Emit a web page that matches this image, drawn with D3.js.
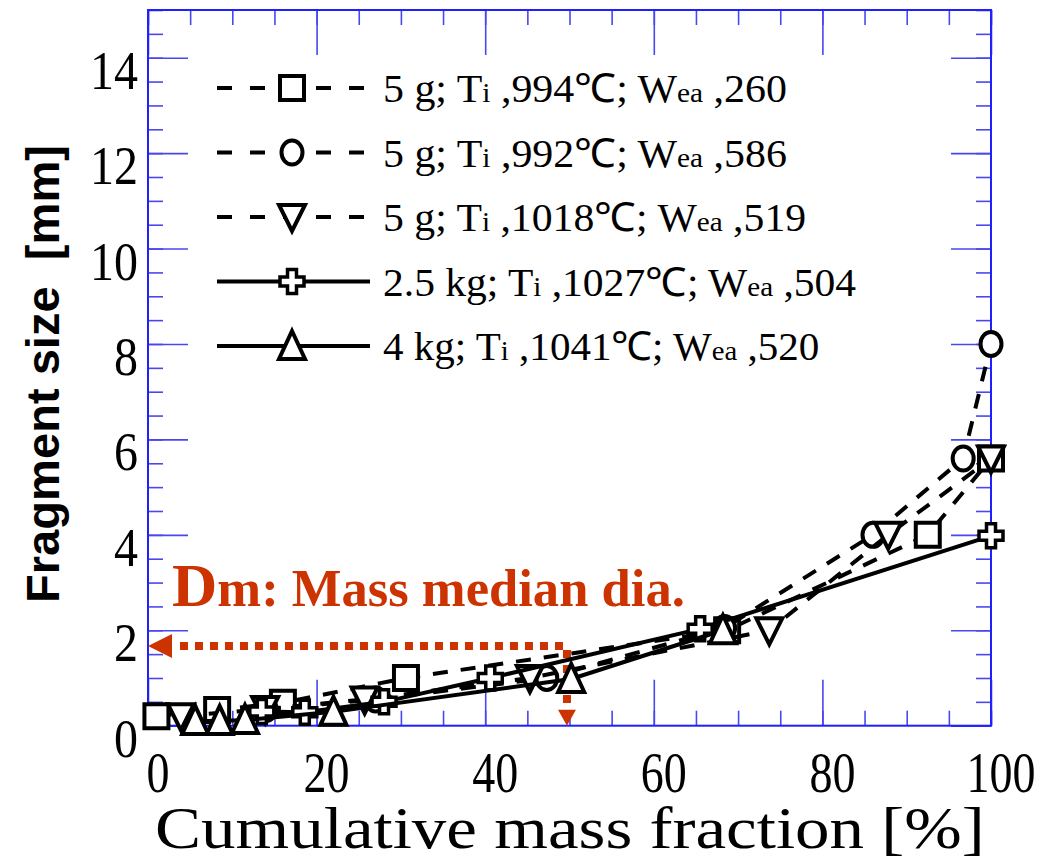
<!DOCTYPE html>
<html lang="en">
<head>
  <meta charset="UTF-8">
  <title>Fragment size vs cumulative mass fraction</title>
  <script src="https://d3js.org/d3.v7.min.js"></script>
  <style>
    html, body { margin: 0; background: #fff; }
    svg { display: block; }
    .tick line { stroke: #4848ee; stroke-width: 1.6px; }
  </style>
</head>
<body>
  <svg id="chart" width="1044" height="860"></svg>
  <script>
    // series data: cumulative mass fraction [%] / fragment size [mm]
    const sqX = [1, 8.2, 16, 30.6, 68.7, 92.5, 100];
    const sqY = [0.2, 0.33, 0.48, 1.0, 2.0, 4.0, 5.6];
    const ciX = [14, 27, 47.3, 68.4, 86, 96.7, 100];
    const ciY = [0.35, 0.55, 1.0, 2.05, 4.0, 5.6, 8.0];
    const dtX = [3.9, 13.9, 25.7, 45.3, 73.7, 87.8, 100];
    const dtY = [0.2, 0.35, 0.55, 1.0, 2.0, 4.0, 5.6];
    const crX = [13.5, 18.6, 28, 40.6, 65.5, 100];
    const crY = [0.3, 0.28, 0.5, 1.0, 2.03, 3.98];
    const utX = [5.6, 8.5, 11.5, 22, 50.2, 68.2];
    const utY = [0.1, 0.1, 0.12, 0.29, 0.98, 2.0];

    const legendMass = ["5 g", "5 g", "5 g", "2.5 kg", "4 kg"];
    const legendTemp = ["994", "992", "1018", "1027", "1041"];
    const legendWea = ["260", "586", "519", "504", "520"];

    const xTickLabels = [0, 20, 40, 60, 80, 100];
    const yTickLabels = [0, 2, 4, 6, 8, 10, 12, 14];

    // mass median diameter marker
    const dmX = 49.7;
    const dmY = 1.67;

    const svg = d3.select("#chart");
    const x = d3.scaleLinear().domain([0, 100]).range([148, 991]);
    const y = d3.scaleLinear().domain([0, 15]).range([725.7, 10]);

    const blue = "#1f1fff";
    const orange = "#cc3300";

    // squeeze a text element horizontally to a given width
    function fit(sel, w, tx, ty, rot) {
      sel.each(function () {
        const bw = this.getBBox().width;
        const k = w / bw;
        d3.select(this).attr("transform",
          `translate(${tx},${ty})` + (rot ? ` rotate(${rot})` : "") + ` scale(${k},1)`);
      });
    }

    // ticks on all four sides, pointing inward
    const ticks = svg.append("g");
    function addAxis(axis, tr, vals, size) {
      const g = ticks.append("g").attr("transform", tr)
        .call(axis.tickValues(vals).tickSize(size).tickFormat(""));
      g.select(".domain").remove();
    }
    const xMinor = x.ticks(20), xMajor = x.ticks(5);
    const yMinor = y.ticks(30), yMajor = d3.range(0, 15, 2);
    addAxis(d3.axisBottom(x), `translate(0,${y(0)})`, xMinor, -15);
    addAxis(d3.axisBottom(x), `translate(0,${y(0)})`, xMajor, -46);
    addAxis(d3.axisTop(x), `translate(0,${y(15)})`, xMinor, -15);
    addAxis(d3.axisTop(x), `translate(0,${y(15)})`, xMajor, -45);
    addAxis(d3.axisLeft(y), `translate(${x(0)},0)`, yMinor, -15);
    addAxis(d3.axisLeft(y), `translate(${x(0)},0)`, yMajor, -40);
    addAxis(d3.axisRight(y), `translate(${x(100)},0)`, yMinor, -15);
    addAxis(d3.axisRight(y), `translate(${x(100)},0)`, yMajor, -40);

    svg.append("rect")
      .attr("x", x(0)).attr("y", y(15))
      .attr("width", x(100) - x(0)).attr("height", y(0) - y(15))
      .attr("fill", "none").attr("stroke", blue).attr("stroke-width", 2);

    // tick labels
    svg.append("g").selectAll("text").data(yTickLabels).join("text")
      .attr("font-family", "Liberation Serif, serif")
      .attr("font-size", 54)
      .attr("text-anchor", "end")
      .text(d => d)
      .each(function (d) { fit(d3.select(this), String(d).length * 24, 138, y(d) + 31); });

    svg.append("g").selectAll("text").data(xTickLabels).join("text")
      .attr("font-family", "Liberation Serif, serif")
      .attr("font-size", 58)
      .attr("text-anchor", "middle")
      .text(d => d)
      .each(function (d) { fit(d3.select(this), String(d).length * 23, x(d) + 10, 792); });

    // axis titles
    svg.append("text")
      .attr("font-family", "Liberation Serif, serif")
      .attr("font-size", 60)
      .text("Cumulative mass fraction [%]")
      .call(fit, 830, 155, 848);

    svg.append("text")
      .attr("font-family", "Liberation Sans, Arial, sans-serif")
      .attr("font-weight", "bold")
      .attr("font-size", 46)
      .attr("text-anchor", "middle")
      .style("white-space", "pre")
      .text("Fragment size  [mm]")
      .call(fit, 458, 59, 374, -90);

    // marker shapes
    const shapes = {
      square: "M-12,-12H12V12H-12Z",
      circle: "M0,-12A10.5,12 0 1,1 0,12A10.5,12 0 1,1 0,-12Z",
      down: "M-13,-12H13L0,14Z",
      cross: "M-4.5,-12H4.5V-4.5H12V4.5H4.5V12H-4.5V4.5H-12V-4.5H-4.5Z",
      up: "M0,-15L13,13H-13Z"
    };

    const series = [
      { xs: sqX, ys: sqY, shape: "square", dash: "15 13" },
      { xs: ciX, ys: ciY, shape: "circle", dash: "15 13" },
      { xs: dtX, ys: dtY, shape: "down", dash: "15 13" },
      { xs: crX, ys: crY, shape: "cross", dash: null },
      { xs: utX, ys: utY, shape: "up", dash: null }
    ];

    const line = d3.line().x(d => x(d[0])).y(d => y(d[1]));

    // dotted Dm guide
    const guide = svg.append("g").attr("fill", orange).attr("stroke", orange);
    guide.append("line")
      .attr("x1", x(dmX) - 4).attr("y1", y(dmY)).attr("x2", x(0) + 26).attr("y2", y(dmY))
      .attr("stroke-width", 8).attr("stroke-dasharray", "8 7");
    guide.append("path").attr("stroke", "none")
      .attr("d", `M${x(0)},${y(dmY)}L${x(0) + 24},${y(dmY) - 12}L${x(0) + 24},${y(dmY) + 12}Z`);
    guide.append("line")
      .attr("x1", x(dmX)).attr("y1", y(dmY) + 4).attr("x2", x(dmX)).attr("y2", y(0) - 15)
      .attr("stroke-width", 8).attr("stroke-dasharray", "8 7");
    guide.append("path").attr("stroke", "none")
      .attr("d", `M${x(dmX)},${y(0)}L${x(dmX) - 9},${y(0) - 16}L${x(dmX) + 9},${y(0) - 16}Z`);

    series.forEach(s => {
      const pts = s.xs.map((v, i) => [v, s.ys[i]]);
      svg.append("path")
        .attr("d", line(pts))
        .attr("fill", "none").attr("stroke", "#000").attr("stroke-width", 4)
        .attr("stroke-dasharray", s.dash);
      svg.append("g").selectAll("path").data(pts).join("path")
        .attr("transform", d => `translate(${x(d[0])},${y(d[1])})`)
        .attr("d", shapes[s.shape])
        .attr("fill", "#fff").attr("stroke", "#000")
        .attr("stroke-width", s.shape === "cross" ? 3.5 : 4);
    });

    svg.append("text")
      .attr("font-family", "Liberation Serif, Times New Roman, serif")
      .attr("font-weight", "bold")
      .attr("fill", orange)
      .call(t => {
        t.append("tspan").attr("font-size", 62).text("D");
        t.append("tspan").attr("font-size", 52).text("m: Mass median dia.");
      })
      .call(fit, 513, 172, 606);

    // legend
    const legendW = [404, 404, 423, 473, 437];
    const legend = svg.append("g");
    series.forEach((s, i) => {
      const ly = 88 + i * 64.5;
      const row = legend.append("g");
      row.append("line")
        .attr("x1", 217).attr("x2", 370).attr("y1", ly).attr("y2", ly)
        .attr("stroke", "#000").attr("stroke-width", 4)
        .attr("stroke-dasharray", s.dash ? "15 18" : null);
      row.append("path")
        .attr("transform", `translate(292,${ly})`)
        .attr("d", shapes[s.shape])
        .attr("fill", "#fff").attr("stroke", "#000")
        .attr("stroke-width", s.shape === "cross" ? 3.5 : 4);
      row.append("text")
        .attr("font-family", "Liberation Serif, serif")
        .attr("font-size", 40)
        .style("white-space", "pre")
        .call(t => {
          t.append("tspan").text(`${legendMass[i]}; T`);
          t.append("tspan").attr("font-size", 28).text("i");
          t.append("tspan").text(` ,${legendTemp[i]}\u2103; W`);
          t.append("tspan").attr("font-size", 28).text("ea");
          t.append("tspan").text(` ,${legendWea[i]}`);
        })
        .call(fit, legendW[i], 383, ly + 14);
    });
  </script>
</body>
</html>
